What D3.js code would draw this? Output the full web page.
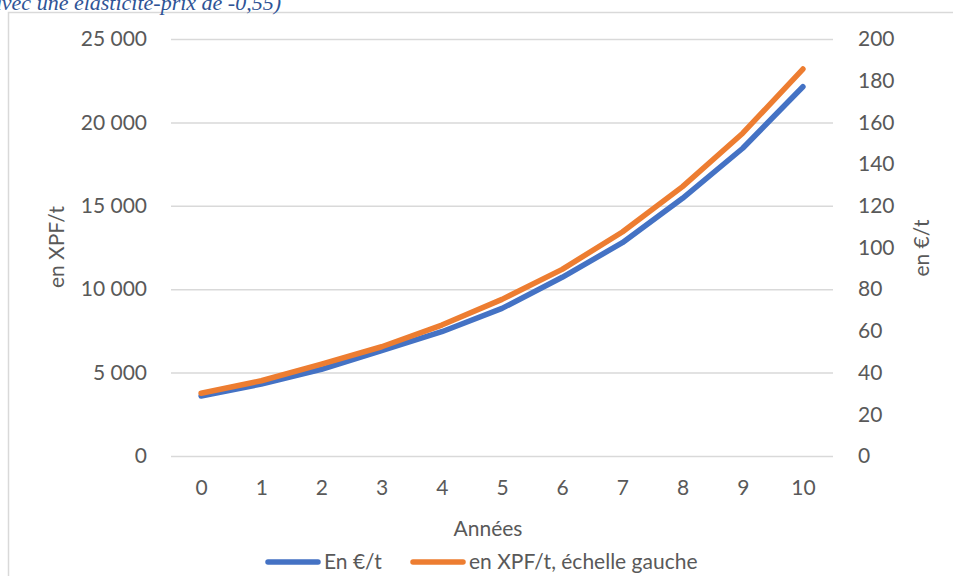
<!DOCTYPE html>
<html lang="fr">
<head>
<meta charset="utf-8">
<script src="https://cdn.jsdelivr.net/npm/d3@7"></script>
<style>
  html, body { margin: 0; padding: 0; background: #fff; }
  svg { display: block; }
  .tick text { font-family: Lato, "Open Sans", sans-serif; fill: #595959; }
</style>
</head>
<body>
<svg id="chart" width="953" height="576"></svg>
<script>
// Années de la trajectoire
const years = [0, 1, 2, 3, 4, 5, 6, 7, 8, 9, 10];
// Prix du carbone en XPF/t (échelle gauche)
const priceXPF = [3760, 4510, 5510, 6550, 7850, 9390, 11190, 13430, 16150, 19350, 23200];
// Prix du carbone en €/t (échelle droite)
const priceEUR = [28.8, 34.5, 41.6, 50.5, 59.6, 70.8, 85.7, 102.3, 123.6, 147.6, 177.1];
// Graduations des axes
const leftTicks = [0, 5000, 10000, 15000, 20000, 25000];
const rightTicks = [0, 20, 40, 60, 80, 100, 120, 140, 160, 180, 200];
// Libellés
const seriesNames = ["En €/t", "en XPF/t, échelle gauche"];
const seriesColors = ["#4472C4", "#ED7D31"];
const captionText = "(avec une élasticité-prix de -0,55)";
const xTitle = "Années";
const yLeftTitle = "en XPF/t";
const yRightTitle = "en €/t";

const svg = d3.select("#chart");
const font = 'Lato, "Open Sans", sans-serif';
const textColor = "#595959";

const plot = { left: 171, right: 833, top: 39, bottom: 456 };

// Cadre de la zone du graphique
svg.append("rect")
  .attr("x", 8.5).attr("y", 12.5)
  .attr("width", 1000).attr("height", 700)
  .attr("fill", "#fff")
  .attr("stroke", "#d9d9d9").attr("stroke-width", 1.5);

// Légende de figure (tronquée en haut)
svg.append("text")
  .attr("x", 281).attr("y", 10)
  .attr("text-anchor", "end")
  .attr("font-family", '"Liberation Serif", "DejaVu Serif", serif')
  .attr("font-style", "italic")
  .attr("font-size", 22)
  .attr("fill", "#2F5496")
  .text(captionText);

const x = d3.scalePoint().domain(years).range([plot.left, plot.right]).padding(0.5);
const yLeft = d3.scaleLinear().domain([0, 25000]).range([plot.bottom, plot.top]);
const yRight = d3.scaleLinear().domain([0, 200]).range([plot.bottom, plot.top]);

const fr = d3.formatLocale({ decimal: ",", thousands: " ", grouping: [3], currency: ["", " €"] });
const fmtLeft = fr.format(",d");

// Axe gauche + quadrillage
const gLeft = svg.append("g")
  .attr("transform", `translate(${plot.left},0)`)
  .call(d3.axisLeft(yLeft).tickValues(leftTicks).tickFormat(fmtLeft)
    .tickSize(-(plot.right - plot.left)).tickPadding(24));
gLeft.select(".domain").remove();
gLeft.selectAll(".tick line").attr("stroke", "#d9d9d9").attr("stroke-width", 1.5);
gLeft.selectAll(".tick text").attr("font-size", 21);

// Axe droit
const gRight = svg.append("g")
  .attr("transform", `translate(${plot.right},0)`)
  .call(d3.axisRight(yRight).tickValues(rightTicks).tickSize(0).tickPadding(25));
gRight.select(".domain").remove();
gRight.selectAll(".tick text").attr("font-size", 21);

// Axe des années
const gBottom = svg.append("g")
  .attr("transform", `translate(0,${plot.bottom})`)
  .call(d3.axisBottom(x).tickSize(0).tickPadding(24));
gBottom.select(".domain").remove();
gBottom.selectAll(".tick text").attr("font-size", 21);

// Titres d'axes
svg.append("text")
  .attr("transform", "translate(64,247) rotate(-90)")
  .attr("text-anchor", "middle")
  .attr("font-family", font).attr("font-size", 21).attr("fill", textColor)
  .text(yLeftTitle);
svg.append("text")
  .attr("transform", "translate(929,248) rotate(-90)")
  .attr("text-anchor", "middle")
  .attr("font-family", font).attr("font-size", 21).attr("fill", textColor)
  .text(yRightTitle);
svg.append("text")
  .attr("x", 488).attr("y", 536)
  .attr("text-anchor", "middle")
  .attr("font-family", font).attr("font-size", 21).attr("fill", textColor)
  .text(xTitle);

// Courbes
const lineEUR = d3.line().x((d, i) => x(years[i])).y(d => yRight(d));
const lineXPF = d3.line().x((d, i) => x(years[i])).y(d => yLeft(d));

svg.append("path")
  .datum(priceEUR)
  .attr("d", lineEUR)
  .attr("fill", "none").attr("stroke", seriesColors[0])
  .attr("stroke-width", 5.5).attr("stroke-linecap", "round").attr("stroke-linejoin", "round");
svg.append("path")
  .datum(priceXPF)
  .attr("d", lineXPF)
  .attr("fill", "none").attr("stroke", seriesColors[1])
  .attr("stroke-width", 5.5).attr("stroke-linecap", "round").attr("stroke-linejoin", "round");

// Légende
const legendX = [268, 413];
const legend = svg.append("g");
seriesNames.forEach((name, i) => {
  const g = legend.append("g").attr("transform", `translate(${legendX[i]},562)`);
  g.append("line")
    .attr("x1", 0).attr("x2", 50).attr("y1", 0).attr("y2", 0)
    .attr("stroke", seriesColors[i]).attr("stroke-width", 5.5).attr("stroke-linecap", "round");
  g.append("text")
    .attr("x", 56).attr("y", 7)
    .attr("font-family", font).attr("font-size", 21).attr("fill", textColor)
    .text(name);
});
</script>
</body>
</html>
